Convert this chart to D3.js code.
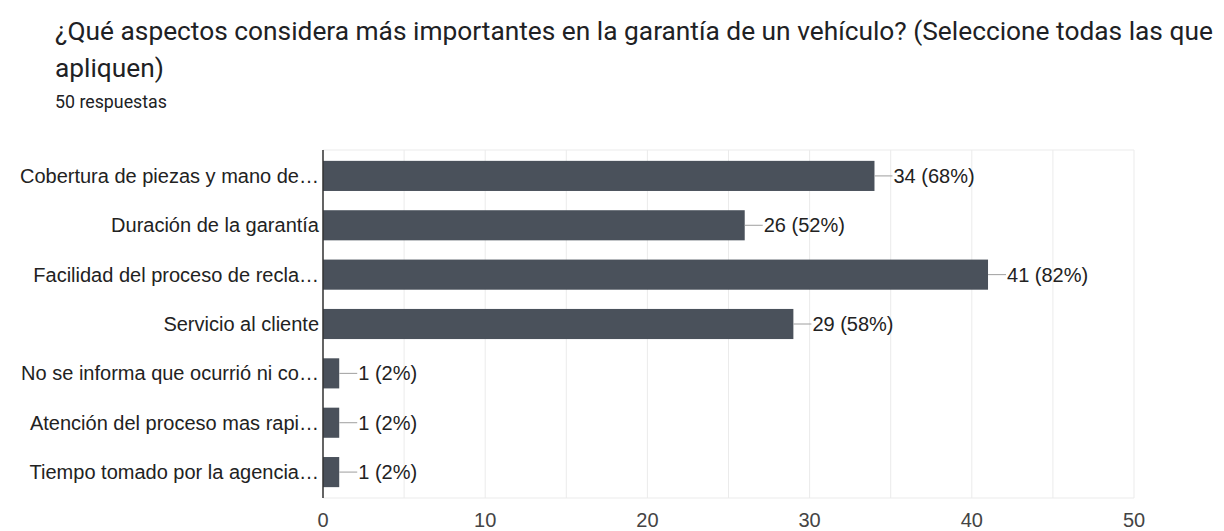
<!DOCTYPE html>
<html>
<head>
<meta charset="utf-8">
<script src="https://cdn.jsdelivr.net/npm/d3@7"></script>
<style>
  body { margin: 0; background: #fff; }
  svg { display: block; }
</style>
</head>
<body>
<div id="chart"></div>
<script>
const categories = [
  "Cobertura de piezas y mano de…",
  "Duración de la garantía",
  "Facilidad del proceso de recla…",
  "Servicio al cliente",
  "No se informa que ocurrió ni co…",
  "Atención del proceso mas rapi…",
  "Tiempo tomado por la agencia…"
];
const counts = [34, 26, 41, 29, 1, 1, 1];
const percents = [68, 52, 82, 58, 2, 2, 2];
const xTicks = [0, 10, 20, 30, 40, 50];
const gridTicks = [0, 5, 10, 15, 20, 25, 30, 35, 40, 45, 50];

const width = 1224, height = 531;
const margin = { top: 150, right: 90, bottom: 33, left: 323 };
const labelFont = "'Liberation Sans', Arial, sans-serif";

const svg = d3.select("#chart")
  .append("svg")
  .attr("width", width)
  .attr("height", height);

// heading
const head = svg.append("g")
  .style("font-family", "Roboto, sans-serif")
  .attr("fill", "#202124");
head.append("text")
  .attr("x", 55).attr("y", 40)
  .style("font-size", "26.3px")
  .text("¿Qué aspectos considera más importantes en la garantía de un vehículo? (Seleccione todas las que");
head.append("text")
  .attr("x", 55).attr("y", 77)
  .style("font-size", "26.3px")
  .text("apliquen)");
head.append("text")
  .attr("x", 55).attr("y", 108)
  .style("font-size", "17.8px")
  .text("50 respuestas");

const x = d3.scaleLinear()
  .domain([0, 50])
  .range([margin.left, width - margin.right]);

const y = d3.scaleBand()
  .domain(categories)
  .range([margin.top, height - margin.bottom])
  .paddingInner(0.39)
  .paddingOuter(0.22);

// grid
svg.append("g")
  .selectAll("line")
  .data(gridTicks)
  .join("line")
  .attr("x1", d => x(d)).attr("x2", d => x(d))
  .attr("y1", margin.top).attr("y2", height - margin.bottom)
  .attr("stroke", "#ebebeb")
  .attr("stroke-width", 1);

svg.append("line")
  .attr("x1", x(0)).attr("x2", x(50))
  .attr("y1", margin.top).attr("y2", margin.top)
  .attr("stroke", "#ebebeb");
svg.append("line")
  .attr("x1", x(0)).attr("x2", x(50))
  .attr("y1", height - margin.bottom).attr("y2", height - margin.bottom)
  .attr("stroke", "#ebebeb");

const rows = categories.map((c, i) => ({ cat: c, count: counts[i], pct: percents[i] }));

// bars
svg.append("g")
  .selectAll("rect")
  .data(rows)
  .join("rect")
  .attr("x", x(0))
  .attr("y", d => y(d.cat))
  .attr("width", d => x(d.count) - x(0))
  .attr("height", y.bandwidth())
  .attr("fill", "#4a515b");

// leader lines + value labels
const lab = svg.append("g")
  .selectAll("g")
  .data(rows)
  .join("g")
  .attr("transform", d => `translate(${x(d.count)},${y(d.cat) + y.bandwidth() / 2})`);
lab.append("line")
  .attr("x1", 0).attr("x2", 18)
  .attr("stroke", "#9e9e9e")
  .attr("stroke-width", 1);
lab.append("text")
  .attr("x", 19)
  .attr("dy", "0.35em")
  .style("font-family", labelFont)
  .style("font-size", "20px")
  .attr("fill", "#222")
  .text(d => `${d.count} (${d.pct}%)`);

// category labels
svg.append("g")
  .selectAll("text")
  .data(rows)
  .join("text")
  .attr("x", x(0) - 4)
  .attr("y", d => y(d.cat) + y.bandwidth() / 2)
  .attr("dy", "0.35em")
  .attr("text-anchor", "end")
  .style("font-family", labelFont)
  .style("font-size", "20px")
  .attr("fill", "#222")
  .text(d => d.cat);

// axis line
svg.append("line")
  .attr("x1", x(0)).attr("x2", x(0))
  .attr("y1", margin.top).attr("y2", height - margin.bottom)
  .attr("stroke", "#333")
  .attr("stroke-width", 1.5);

// x tick labels
svg.append("g")
  .selectAll("text")
  .data(xTicks)
  .join("text")
  .attr("x", d => x(d))
  .attr("y", 526.5)
  .attr("text-anchor", "middle")
  .style("font-family", labelFont)
  .style("font-size", "20px")
  .attr("fill", "#444")
  .text(d => d);
</script>
</body>
</html>
